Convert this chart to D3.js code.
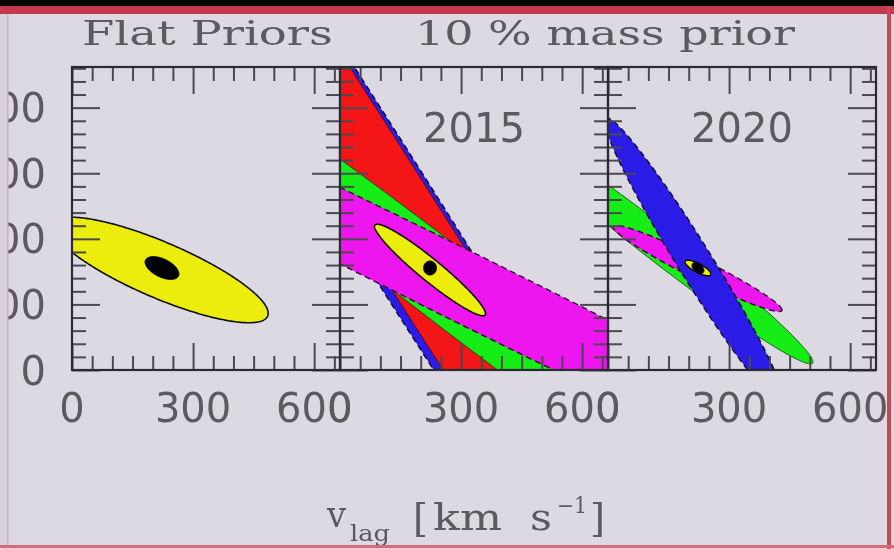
<!DOCTYPE html>
<html>
<head>
<meta charset="utf-8">
<script src="https://cdn.jsdelivr.net/npm/d3@7"></script>
<style>
  html, body { margin: 0; padding: 0; background: #dcd9e3; }
  svg { display: block; }
</style>
</head>
<body>
<svg id="chart" width="894" height="549"></svg>
<script>
// ---------------- data ----------------
const titles = ["Flat Priors", "10 % mass prior"];
const panelLabels = ["", "2015", "2020"];
const xTickValues = [0, 300, 600];
const xTickLabels = ["0", "300", "600"];
const xMinorTicks = [50, 100, 150, 200, 250, 350, 400, 450, 500, 550, 650];
const yTickValues = [0, 100, 200, 300, 400];
const yTickLabels = ["0", "100", "200", "300", "400"];
const yMinorTicks = [20, 40, 60, 80, 120, 140, 160, 180, 220, 240, 260, 280,
                     320, 340, 360, 380, 420, 440, 460];
const xDomain = [0, 664];
const yDomain = [0, 462];

// confidence contours: [level, centre x, centre y, semi-diameter u (dx, dy), conjugate semi-diameter v (dx, dy)]
const flatPriorContours = [
  ["yellow", 218, 152.5, 268, -66, 0, 46],
  ["core",   223, 155.5, 42, -9, 0, 15]
];
const mass2015Contours = [
  ["blue",    139.8, 225.3, 1191, -1160, 100.5, 39.1],
  ["red",     144, 226.9, 1191, -1160, 88.0, 34.2],
  ["green",   263.4, 129.9, 982.5, -464.4, 55.8, 44.7],
  ["magenta", 322.1, 122.0, 1553.7, -474.3, 38.5, 47.8],
  ["yellow",  223, 152.5, 136.3, -68.6, 17.3, 13],
  ["core",    223, 155.5, 16, 0, 0, 10.7]
];
const mass2020Contours = [
  ["green",   128.9, 190.6, 379, -178.4, 0, 32.8],
  ["magenta", 221.8, 154.8, 209.4, -63.3, 0, 17.5],
  ["blue",    215.6, 164.7, 218, -219.6, 49.6, 0],
  ["yellow",  223, 155.5, 32.2, -9.2, 0, 7.6],
  ["core",    223, 155.5, 14.9, -3.8, 0, 7.6]
];
const panelContours = [flatPriorContours, mass2015Contours, mass2020Contours];

// ---------------- styles ----------------
const levelStyle = {
  blue:    {fill: "#2a1fe6", stroke: "#14103a", width: 1.6, dash: "6 4"},
  red:     {fill: "#f41414", stroke: "#3a0a0a", width: 0.8, dash: null},
  green:   {fill: "#12ec12", stroke: "#103a10", width: 0.8, dash: null},
  magenta: {fill: "#ee12ee", stroke: "#2a0a2a", width: 1.4, dash: "6 4"},
  yellow:  {fill: "#ecec08", stroke: "#111111", width: 1.6, dash: null},
  core:    {fill: "#050505", stroke: "#050505", width: 1, dash: null}
};
const textColor = "#5a5a5e";
const panelLeft = [72, 340, 608];
const panelWidth = 268;
const panelTop = 67, panelBottom = 370;

// ---------------- drawing ----------------
const svg = d3.select("#chart");
const defs = svg.append("defs");
defs.append("filter").attr("id", "soft")
  .append("feGaussianBlur").attr("stdDeviation", 0.7);

svg.append("rect").attr("width", 894).attr("height", 549).attr("fill", "#dcd9e3");

const y = d3.scaleLinear().domain(yDomain).range([panelBottom, panelTop]);
const tStep = d3.range(0, 361, 1).map(d => d * Math.PI / 180);

const root = svg.append("g").attr("filter", "url(#soft)");

panelContours.forEach((contours, i) => {
  const x0 = panelLeft[i];
  const x = d3.scaleLinear().domain(xDomain).range([x0, x0 + panelWidth]);
  defs.append("clipPath").attr("id", "clip" + i)
    .append("rect").attr("x", x0).attr("y", panelTop)
    .attr("width", panelWidth).attr("height", panelBottom - panelTop);

  const g = root.append("g").attr("clip-path", `url(#clip${i})`);
  const line = d3.line().x(p => x(p[0])).y(p => y(p[1])).curve(d3.curveLinearClosed);
  contours.forEach(c => {
    const [level, cx, cy, ux, uy, vx, vy] = c;
    const pts = tStep.map(t => [cx + ux * Math.cos(t) + vx * Math.sin(t),
                                cy + uy * Math.cos(t) + vy * Math.sin(t)]);
    const st = levelStyle[level];
    g.append("path").attr("d", line(pts))
      .attr("fill", st.fill).attr("stroke", st.stroke)
      .attr("stroke-width", st.width)
      .attr("stroke-dasharray", st.dash);
  });

  // axes (ticks pointing inward)
  const ax = root.append("g").attr("class", "axes");
  const addAxis = (gen, tr, vals, size) => {
    const a = ax.append("g").attr("transform", tr)
      .call(gen.tickValues(vals).tickSize(size).tickFormat(""));
    a.select(".domain").remove();
    a.selectAll("line").attr("stroke", "#4a4a50").attr("stroke-width", 2);
  };
  addAxis(d3.axisBottom(x), `translate(0,${panelBottom})`, xTickValues, -27);
  addAxis(d3.axisBottom(x), `translate(0,${panelBottom})`, xMinorTicks, -14);
  addAxis(d3.axisTop(x), `translate(0,${panelTop})`, xTickValues, -27);
  addAxis(d3.axisTop(x), `translate(0,${panelTop})`, xMinorTicks, -14);
  addAxis(d3.axisLeft(y), `translate(${x0},0)`, yTickValues, -28);
  addAxis(d3.axisLeft(y), `translate(${x0},0)`, yMinorTicks, -14);
  addAxis(d3.axisRight(y), `translate(${x0 + panelWidth},0)`, yTickValues, -28);
  addAxis(d3.axisRight(y), `translate(${x0 + panelWidth},0)`, yMinorTicks, -14);

  ax.append("rect").attr("x", x0).attr("y", panelTop)
    .attr("width", panelWidth).attr("height", panelBottom - panelTop)
    .attr("fill", "none").attr("stroke", "#2c2c30").attr("stroke-width", 2.2);

  // x tick labels
  xTickValues.forEach((v, k) => {
    root.append("text").attr("x", x(v)).attr("y", 422)
      .attr("text-anchor", "middle")
      .attr("font-family", "DejaVu Sans").attr("font-size", 40)
      .attr("fill", textColor).text(xTickLabels[k]);
  });

  // panel label
  if (panelLabels[i]) {
    root.append("text").attr("x", x0 + panelWidth / 2).attr("y", 142)
      .attr("text-anchor", "middle")
      .attr("font-family", "DejaVu Sans").attr("font-size", 40)
      .attr("fill", textColor).text(panelLabels[i]);
  }
});

// y tick labels (left side, clipped by the frame of the photo)
defs.append("clipPath").attr("id", "clipLeft")
  .append("rect").attr("x", 8).attr("y", 0).attr("width", 60).attr("height", 549);
const yl = root.append("g").attr("clip-path", "url(#clipLeft)");
yTickValues.forEach((v, k) => {
  yl.append("text").attr("x", 46).attr("y", y(v) + 14.5)
    .attr("text-anchor", "end")
    .attr("font-family", "DejaVu Sans").attr("font-size", 40)
    .attr("fill", textColor).text(yTickLabels[k]);
});

// titles
const serif = "DejaVu Serif";
root.append("text").attr("x", 82).attr("y", 45)
  .attr("font-family", serif).attr("font-size", 33).attr("fill", textColor)
  .attr("textLength", 251).attr("lengthAdjust", "spacingAndGlyphs").text(titles[0]);
root.append("text").attr("x", 415).attr("y", 45)
  .attr("font-family", serif).attr("font-size", 33).attr("fill", textColor)
  .attr("textLength", 380).attr("lengthAdjust", "spacingAndGlyphs").text(titles[1]);

// x-axis title: v_lag [km s^-1]
const xt = [
  {t: "v",   x: 327, y: 527, s: 37, w: 19},
  {t: "lag", x: 350, y: 541, s: 22, w: 40},
  {t: "[",   x: 413, y: 531, s: 40, w: 15},
  {t: "km",  x: 433, y: 530, s: 37, w: 69},
  {t: "s",   x: 530, y: 530, s: 37, w: 22},
  {t: "−1",  x: 557, y: 513, s: 22, w: 30},
  {t: "]",   x: 590, y: 531, s: 40, w: 15}
];
xt.forEach(p => {
  root.append("text").attr("x", p.x).attr("y", p.y)
    .attr("font-family", serif).attr("font-size", p.s).attr("fill", textColor)
    .attr("textLength", p.w).attr("lengthAdjust", "spacingAndGlyphs").text(p.t);
});

// photo frame borders
svg.append("rect").attr("x", 0).attr("y", 0).attr("width", 894).attr("height", 6).attr("fill", "#050505");
svg.append("rect").attr("x", 0).attr("y", 6).attr("width", 894).attr("height", 8).attr("fill", "#c43a4c");
svg.append("rect").attr("x", 887).attr("y", 6).attr("width", 4).attr("height", 543).attr("fill", "#c8485a");
svg.append("rect").attr("x", 0).attr("y", 545).attr("width", 894).attr("height", 3).attr("fill", "#d86a78");
svg.append("rect").attr("x", 0).attr("y", 14).attr("width", 8).attr("height", 531).attr("fill", "#d4d0dc");
svg.append("rect").attr("x", 7).attr("y", 14).attr("width", 1.5).attr("height", 531).attr("fill", "#d8a8b8");
</script>
</body>
</html>
